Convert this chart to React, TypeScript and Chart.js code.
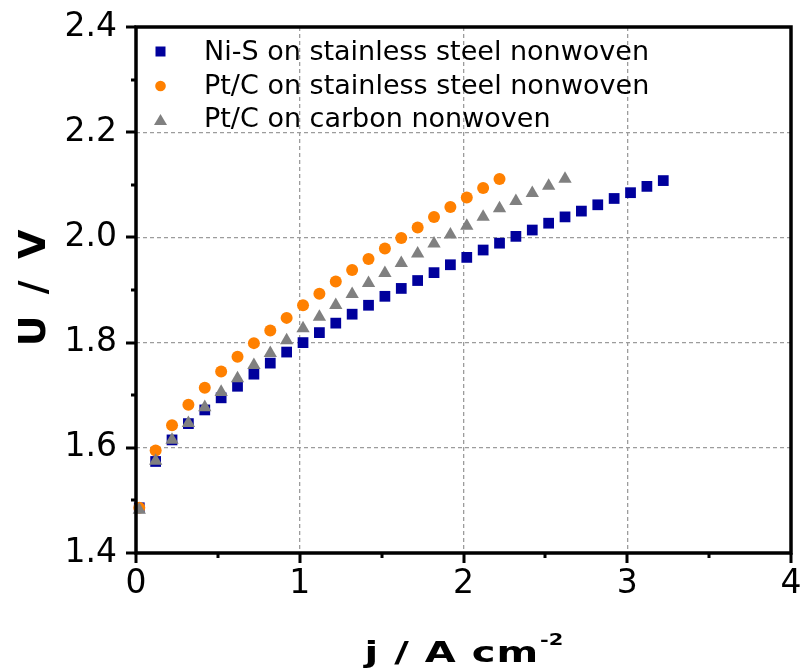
import { useEffect, useRef } from "react";
import { Chart, registerables } from "chart.js";

Chart.register(...registerables);

// Current density j / A cm^-2 and cell voltage U / V for each electrode
const niSJ = [0.02, 0.12, 0.22, 0.32, 0.42, 0.52, 0.62, 0.72, 0.82, 0.92, 1.02, 1.12, 1.22, 1.32, 1.42, 1.52, 1.62, 1.72, 1.82, 1.92, 2.02, 2.12, 2.22, 2.32, 2.42, 2.52, 2.62, 2.72, 2.82, 2.92, 3.02, 3.12, 3.22];
const niSU = [1.486, 1.574, 1.615, 1.646, 1.672, 1.695, 1.717, 1.740, 1.761, 1.782, 1.800, 1.819, 1.837, 1.854, 1.871, 1.888, 1.903, 1.918, 1.933, 1.948, 1.962, 1.976, 1.989, 2.002, 2.014, 2.027, 2.039, 2.050, 2.062, 2.074, 2.085, 2.097, 2.108];

const ptSteelJ = [0.02, 0.12, 0.22, 0.32, 0.42, 0.52, 0.62, 0.72, 0.82, 0.92, 1.02, 1.12, 1.22, 1.32, 1.42, 1.52, 1.62, 1.72, 1.82, 1.92, 2.02, 2.12, 2.22];
const ptSteelU = [1.486, 1.595, 1.643, 1.682, 1.714, 1.745, 1.773, 1.799, 1.823, 1.847, 1.871, 1.893, 1.916, 1.938, 1.959, 1.979, 1.999, 2.019, 2.039, 2.058, 2.076, 2.094, 2.111];

const ptCarbonJ = [0.02, 0.12, 0.22, 0.32, 0.42, 0.52, 0.62, 0.72, 0.82, 0.92, 1.02, 1.12, 1.22, 1.32, 1.42, 1.52, 1.62, 1.72, 1.82, 1.92, 2.02, 2.12, 2.22, 2.32, 2.42, 2.52, 2.62];
const ptCarbonU = [1.482, 1.575, 1.615, 1.647, 1.677, 1.706, 1.732, 1.757, 1.780, 1.804, 1.827, 1.849, 1.871, 1.892, 1.913, 1.932, 1.951, 1.969, 1.988, 2.005, 2.022, 2.039, 2.055, 2.069, 2.084, 2.098, 2.111];

const seriesLabels = [
  "Ni-S on stainless steel nonwoven",
  "Pt/C on stainless steel nonwoven",
  "Pt/C on carbon nonwoven",
];

const xAxisTitle = "j / A cm";
const xAxisTitleSup = "-2";
const yAxisTitle = "U / V";

const FONT = "'DejaVu Sans', Verdana, sans-serif";
const BLUE = "#00009c";
const ORANGE = "#ff8000";
const GRAY = "#808080";

const pairs = (xs: number[], ys: number[]) => xs.map((x, i) => ({ x, y: ys[i] }));

const near = (a: number, b: number) => Math.abs(a - b) < 1e-6;

// Thick frame with outward major/minor tick marks
const framePlugin = {
  id: "frameTicks",
  afterDatasetsDraw(chart: any) {
    const { ctx, chartArea: a, scales } = chart;
    const xs = scales.x;
    const ys = scales.y;
    ctx.save();
    ctx.strokeStyle = "#000";
    ctx.lineCap = "butt";

    ctx.lineWidth = 3;
    const xMajor = xs.ticks.map((t: any) => t.value);
    const yMajor = ys.ticks.map((t: any) => t.value);
    const mids = (vals: number[]) => vals.slice(1).map((v, i) => (v + vals[i]) / 2);

    ctx.beginPath();
    xMajor.forEach((v: number) => {
      const p = Math.round(xs.getPixelForValue(v));
      ctx.moveTo(p, a.bottom);
      ctx.lineTo(p, a.bottom + 10);
    });
    mids(xMajor).forEach((v) => {
      const p = Math.round(xs.getPixelForValue(v));
      ctx.moveTo(p, a.bottom);
      ctx.lineTo(p, a.bottom + 5);
    });
    yMajor.forEach((v: number) => {
      const p = Math.round(ys.getPixelForValue(v));
      ctx.moveTo(a.left, p);
      ctx.lineTo(a.left - 10, p);
    });
    mids(yMajor).forEach((v) => {
      const p = Math.round(ys.getPixelForValue(v));
      ctx.moveTo(a.left, p);
      ctx.lineTo(a.left - 5, p);
    });
    ctx.stroke();

    ctx.lineWidth = 3.5;
    ctx.strokeRect(a.left, a.top, a.right - a.left, a.bottom - a.top);
    ctx.restore();
  },
};

// Legend in the upper-left corner of the plot
const legendPlugin = {
  id: "innerLegend",
  afterDatasetsDraw(chart: any) {
    const { ctx } = chart;
    const rows = [
      { marker: "square", color: BLUE, cy: 51.5, base: 59.5 },
      { marker: "circle", color: ORANGE, cy: 86, base: 93.5 },
      { marker: "triangle", color: GRAY, cy: 120, base: 127 },
    ];
    ctx.save();
    ctx.font = `27px ${FONT}`;
    ctx.textAlign = "left";
    ctx.textBaseline = "alphabetic";
    rows.forEach((r, i) => {
      const cx = 160.5;
      ctx.fillStyle = r.color;
      ctx.beginPath();
      if (r.marker === "square") {
        ctx.rect(cx - 5, r.cy - 5, 10, 10);
      } else if (r.marker === "circle") {
        ctx.arc(cx, r.cy, 5.3, 0, Math.PI * 2);
      } else {
        ctx.moveTo(cx, r.cy - 6);
        ctx.lineTo(cx + 6.5, r.cy + 5);
        ctx.lineTo(cx - 6.5, r.cy + 5);
        ctx.closePath();
      }
      ctx.fill();
      ctx.fillStyle = "#000";
      ctx.fillText(chart.data.datasets[i].label, 204, r.base);
    });
    ctx.restore();
  },
};

// Bold axis titles, with the superscript exponent on the x title
const titlesPlugin = {
  id: "axisTitles",
  afterDraw(chart: any) {
    const { ctx, chartArea: a } = chart;
    ctx.save();
    ctx.fillStyle = "#000";
    ctx.textBaseline = "alphabetic";
    ctx.textAlign = "left";

    // x title
    const mainFont = `bold 40px ${FONT}`;
    const supFont = `bold 21px ${FONT}`;
    ctx.font = mainFont;
    (ctx as any).letterSpacing = "1px";
    const wMain = ctx.measureText(xAxisTitle).width;
    ctx.font = supFont;
    (ctx as any).letterSpacing = "0px";
    const wSup = ctx.measureText(xAxisTitleSup).width;
    const cx = (a.left + a.right) / 2;
    const startX = cx - (wMain + wSup) / 2;
    ctx.save();
    ctx.translate(startX, 662);
    ctx.scale(1, 0.72);
    ctx.font = mainFont;
    (ctx as any).letterSpacing = "1px";
    ctx.fillText(xAxisTitle, 0, 0);
    ctx.font = supFont;
    (ctx as any).letterSpacing = "0px";
    ctx.fillText(xAxisTitleSup, wMain + 1, -23);
    ctx.restore();

    // y title
    ctx.save();
    ctx.translate(45, (a.top + a.bottom) / 2 - 2);
    ctx.rotate(-Math.PI / 2);
    ctx.font = `bold 38px ${FONT}`;
    (ctx as any).letterSpacing = "4px";
    ctx.textAlign = "center";
    ctx.fillText(yAxisTitle, 2, 0);
    ctx.restore();

    ctx.restore();
  },
};

export default function App() {
  const canvasRef = useRef<HTMLCanvasElement | null>(null);

  useEffect(() => {
    const canvas = canvasRef.current;
    if (!canvas) return;

    const gridColor = (min: number, max: number) => (c: any) => {
      const v = c.tick ? c.tick.value : NaN;
      return near(v, min) || near(v, max) ? "rgba(0,0,0,0)" : "#9c9c9c";
    };

    const chart = new Chart(canvas, {
      type: "scatter",
      data: {
        datasets: [
          {
            label: seriesLabels[0],
            data: pairs(niSJ, niSU),
            pointStyle: "rect",
            pointRadius: 7.6,
            backgroundColor: BLUE,
            borderColor: BLUE,
            borderWidth: 0,
            order: 3,
            clip: false,
          },
          {
            label: seriesLabels[1],
            data: pairs(ptSteelJ, ptSteelU),
            pointStyle: "circle",
            pointRadius: 6,
            backgroundColor: ORANGE,
            borderColor: ORANGE,
            borderWidth: 0,
            order: 2,
            clip: false,
          },
          {
            label: seriesLabels[2],
            data: pairs(ptCarbonJ, ptCarbonU),
            pointStyle: "triangle",
            pointRadius: 7.7,
            backgroundColor: GRAY,
            borderColor: GRAY,
            borderWidth: 0,
            order: 1,
            clip: false,
          },
        ] as any,
      },
      options: {
        animation: false,
        responsive: false,
        devicePixelRatio: 1,
        events: [],
        layout: { padding: { top: 27, right: 9, left: 0, bottom: 0 } },
        plugins: {
          legend: { display: false },
          tooltip: { enabled: false },
        },
        scales: {
          x: {
            type: "linear",
            min: 0,
            max: 4,
            ticks: {
              stepSize: 1,
              padding: 12,
              maxRotation: 0,
              color: "#000",
              font: { family: FONT, size: 33 },
              callback: (v: any) => String(Math.round(Number(v))),
            },
            grid: {
              drawTicks: false,
              lineWidth: 1.3,
              color: gridColor(0, 4),
            },
            border: { display: false, dash: [4, 3] },
            afterFit: (s: any) => {
              s.height = 117;
              s.paddingLeft = 0;
              s.paddingRight = 0;
            },
          },
          y: {
            type: "linear",
            min: 1.4,
            max: 2.4,
            ticks: {
              stepSize: 0.2,
              padding: 19,
              color: "#000",
              font: { family: FONT, size: 33 },
              callback: (v: any) => Number(v).toFixed(1),
            },
            grid: {
              drawTicks: false,
              lineWidth: 1.3,
              color: gridColor(1.4, 2.4),
            },
            border: { display: false, dash: [4, 3] },
            afterFit: (s: any) => {
              s.width = 136;
              s.paddingTop = 0;
              s.paddingBottom = 0;
            },
          },
        },
      } as any,
      plugins: [framePlugin, legendPlugin, titlesPlugin],
    });

    return () => chart.destroy();
  }, []);

  return (
    <div style={{ position: "fixed", left: 0, top: 0, width: 800, height: 670, background: "#fff" }}>
      <canvas ref={canvasRef} width={800} height={670} style={{ display: "block" }} />
    </div>
  );
}
